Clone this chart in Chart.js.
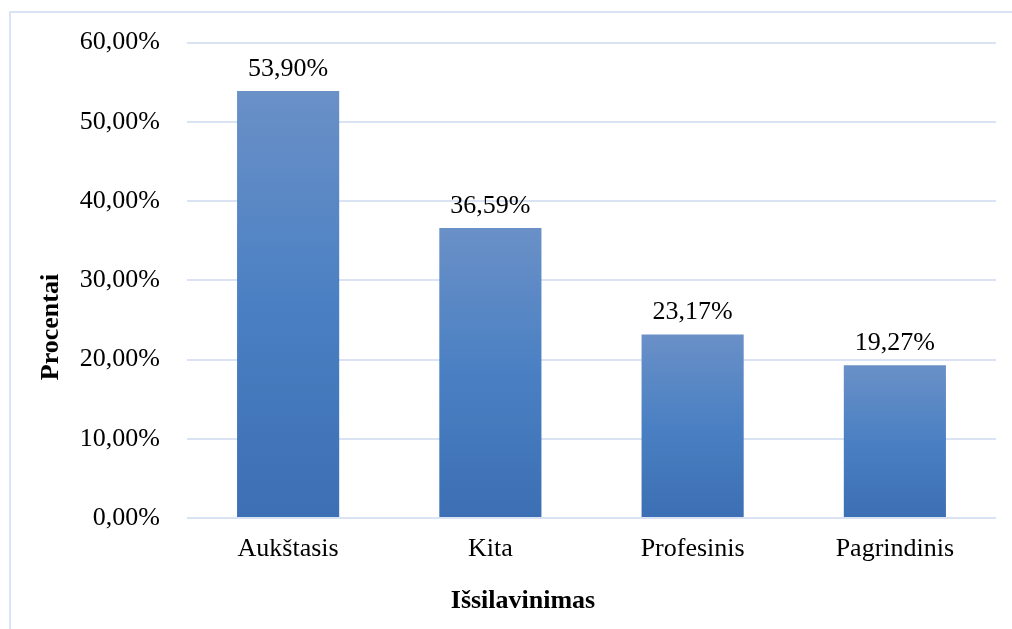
<!DOCTYPE html>
<html>
<head>
<meta charset="utf-8">
<script src="https://cdn.jsdelivr.net/npm/chart.js@4/dist/chart.umd.min.js"></script>
<style>
  html, body { margin: 0; padding: 0; background: #ffffff; }
  #wrap { width: 1012px; height: 629px; position: relative; }
</style>
</head>
<body>
<div id="wrap"><canvas id="c" width="1012" height="629"></canvas></div>
<script>
const categories = ["Aukštasis", "Kita", "Profesinis", "Pagrindinis"];
const values = [53.90, 36.59, 23.17, 19.27];
const yTicks = [0, 10, 20, 30, 40, 50, 60];
const xTitle = "Išsilavinimas";
const yTitle = "Procentai";

const FONT = "'Liberation Serif', 'Times New Roman', serif";
const fmt = v => v.toFixed(2).replace('.', ',') + '%';

const framePlugin = {
  id: 'frame',
  beforeDraw(chart) {
    const ctx = chart.ctx;
    ctx.save();
    ctx.fillStyle = '#ffffff';
    ctx.fillRect(0, 0, chart.width, chart.height);
    ctx.strokeStyle = '#d9e3f3';
    ctx.lineWidth = 2;
    ctx.strokeRect(10, 12, chart.width + 20, chart.height + 20);
    ctx.restore();
  },
  afterDraw(chart) {
    const ctx = chart.ctx;
    ctx.save();
    ctx.fillStyle = '#000000';
    ctx.font = 'bold 26px ' + FONT;
    ctx.textAlign = 'center';
    ctx.textBaseline = 'middle';
    ctx.fillText(xTitle, 523, 601);
    ctx.translate(51, 327);
    ctx.rotate(-Math.PI / 2);
    ctx.fillText(yTitle, 0, 0);
    ctx.restore();
  }
};

const labelPlugin = {
  id: 'valueLabels',
  afterDatasetsDraw(chart) {
    const ctx = chart.ctx;
    const meta = chart.getDatasetMeta(0);
    ctx.save();
    ctx.fillStyle = '#000000';
    ctx.font = '26px ' + FONT;
    ctx.textAlign = 'center';
    ctx.textBaseline = 'alphabetic';
    meta.data.forEach((bar, i) => {
      ctx.fillText(fmt(values[i]), bar.x, bar.y - 15);
    });
    ctx.restore();
  }
};

function barGradient(context) {
  const chart = context.chart;
  const { ctx, chartArea, scales } = chart;
  if (!chartArea || context.dataIndex === undefined) return '#4a80c4';
  const v = context.raw;
  const top = scales.y.getPixelForValue(v);
  const bottom = scales.y.getPixelForValue(0);
  const g = ctx.createLinearGradient(0, top, 0, bottom);
  g.addColorStop(0, '#6a90c7');
  g.addColorStop(0.5, '#4a80c3');
  g.addColorStop(1, '#3c6fb3');
  return g;
}

new Chart(document.getElementById('c'), {
  type: 'bar',
  data: {
    labels: categories,
    datasets: [{
      data: values,
      backgroundColor: barGradient,
      borderWidth: 0,
      categoryPercentage: 1.0,
      barPercentage: 0.505
    }]
  },
  options: {
    responsive: false,
    animation: false,
    devicePixelRatio: 1,
    layout: { padding: { left: 0, right: 16, top: 0, bottom: 0 } },
    plugins: { legend: { display: false }, tooltip: { enabled: false } },
    scales: {
      x: {
        grid: { display: false, drawTicks: false },
        border: { display: false },
        ticks: {
          color: '#000000',
          font: { family: FONT, size: 26 },
          padding: 16,
          maxRotation: 0
        },
        afterFit(scale) { scale.height = 111; }
      },
      y: {
        min: 0,
        max: 60,
        afterBuildTicks(scale) { scale.ticks = yTicks.map(v => ({ value: v })); },
        grid: { color: '#d9e3f3', lineWidth: 2, drawTicks: false },
        border: { display: false },
        ticks: {
          color: '#000000',
          font: { family: FONT, size: 26 },
          padding: 27,
          callback: v => fmt(v)
        },
        afterFit(scale) { scale.width = 187; }
      }
    }
  },
  plugins: [framePlugin, labelPlugin]
});
</script>
</body>
</html>
